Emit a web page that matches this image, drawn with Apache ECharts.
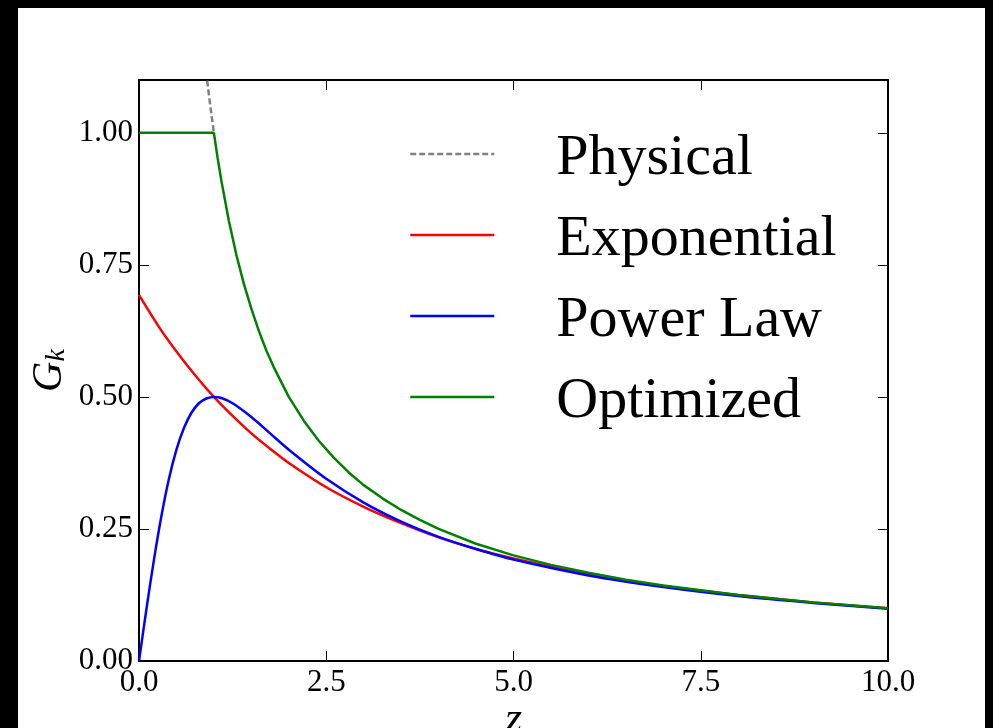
<!DOCTYPE html>
<html>
<head>
<meta charset="utf-8">
<script src="https://cdn.jsdelivr.net/npm/echarts@6/dist/echarts.min.js"></script>
<style>
  html,body{margin:0;padding:0;background:#000;width:993px;height:728px;overflow:hidden;}
  #main{position:absolute;left:18px;top:8px;width:967px;height:720px;background:#fff;}
</style>
</head>
<body>
<div id="main"></div>
<script>
// values
const zPhys = [0.91, 0.95, 1.0];
const gPhys = [1.099, 1.053, 1.0];

const zExp = [0, 0.25, 0.5, 0.75, 1, 1.25, 1.5, 1.75, 2, 2.5, 3, 3.5, 4, 4.5, 5, 6, 7, 8, 9, 10];
const gExp = [0.693, 0.636, 0.586, 0.541, 0.500, 0.464, 0.431, 0.402, 0.375, 0.329, 0.292, 0.261, 0.234, 0.212, 0.194, 0.164, 0.142, 0.125, 0.111, 0.100];

const zPow = [0, 0.1, 0.2, 0.3, 0.4, 0.5, 0.6, 0.7, 0.8, 0.9, 1, 1.1, 1.25, 1.5, 1.75, 2, 2.5, 3, 3.5, 4, 4.5, 5, 6, 7, 8, 9, 10];
const gPow = [0, 0.099, 0.192, 0.275, 0.345, 0.400, 0.441, 0.470, 0.488, 0.497, 0.500, 0.498, 0.488, 0.462, 0.431, 0.400, 0.345, 0.300, 0.264, 0.235, 0.212, 0.192, 0.162, 0.140, 0.123, 0.110, 0.099];

const zOpt = [0, 1, 1.05, 1.1, 1.2, 1.3, 1.4, 1.5, 1.6, 1.7, 1.8, 2, 2.2, 2.4, 2.6, 2.8, 3, 3.25, 3.5, 3.75, 4, 4.5, 5, 5.5, 6, 6.5, 7, 8, 9, 10];
const gOpt = [1, 1, 0.952, 0.909, 0.833, 0.769, 0.714, 0.667, 0.625, 0.588, 0.556, 0.500, 0.455, 0.417, 0.385, 0.357, 0.333, 0.308, 0.286, 0.267, 0.250, 0.222, 0.200, 0.182, 0.167, 0.154, 0.143, 0.125, 0.111, 0.100];

const xTicks = ['0.0', '2.5', '5.0', '7.5', '10.0'];
const yTicks = ['0.00', '0.25', '0.50', '0.75', '1.00'];

const zip = (xs, ys) => xs.map((x, i) => [x, ys[i]]);
const serif = 'Liberation Serif';

const myChart = echarts.init(document.getElementById('main'));

const axisCommon = {
  type: 'value',
  axisLine: { show: true, onZero: false, lineStyle: { color: '#000', width: 2 } },
  axisTick: { show: true, inside: true, length: 10, lineStyle: { color: '#000', width: 1 } },
  splitLine: { show: false }
};

// tick label only on the exact multiples
const tickText = (list, step) => v => {
  const i = Math.round(v / step);
  return Math.abs(v - i * step) < 1e-6 && list[i] ? list[i] : '';
};

myChart.setOption({
  animation: false,
  grid: { left: 121, right: 97, top: 72, bottom: 67, containLabel: false, outerBoundsMode: 'none' },
  legend: {
    orient: 'vertical',
    left: 386,
    top: 107,
    itemWidth: 84,
    itemHeight: 2,
    itemGap: 13,
    itemStyle: { opacity: 0, borderWidth: 0 },
    lineStyle: { width: 2.5 },
    data: ['Physical', 'Exponential', 'Power Law', 'Optimized'],
    formatter: name => '{t|' + name + '}',
    textStyle: {
      fontFamily: serif, fontSize: 58, color: '#000',
      rich: { t: { fontFamily: serif, fontSize: 58, color: '#000', lineHeight: 57, padding: [10, 0, 0, 57] } }
    }
  },
  xAxis: [
    Object.assign({}, axisCommon, {
      position: 'bottom', min: 0, max: 10, interval: 2.5,
      axisLabel: { color: '#000', fontFamily: serif, fontSize: 31, margin: 6,
        formatter: tickText(xTicks, 2.5) },
      name: 'z', nameLocation: 'middle', nameGap: 37, nameMoveOverlap: false,
      nameTextStyle: { fontFamily: serif, fontStyle: 'italic', fontSize: 44, color: '#000' }
    }),
    Object.assign({}, axisCommon, {
      position: 'top', min: 0, max: 10, interval: 2.5,
      axisLabel: { show: false }
    })
  ],
  yAxis: [
    Object.assign({}, axisCommon, {
      position: 'left', min: 0, max: 1.1, interval: 0.25,
      axisLabel: { color: '#000', fontFamily: serif, fontSize: 31, margin: 6,
        formatter: tickText(yTicks, 0.25) },
      name: '{g|G}{k|k}', nameLocation: 'middle', nameGap: 68, nameRotate: 90, nameMoveOverlap: false,
      nameTextStyle: {
        rich: {
          g: { fontFamily: serif, fontStyle: 'italic', fontSize: 42, color: '#000' },
          k: { fontFamily: serif, fontStyle: 'italic', fontSize: 28, color: '#000', padding: [14, 0, 0, 0] }
        }
      }
    }),
    Object.assign({}, axisCommon, {
      position: 'right', min: 0, max: 1.1, interval: 0.25,
      axisLabel: { show: false }
    })
  ],
  series: [
    {
      name: 'Physical', type: 'line', symbol: 'none', smooth: false, color: '#808080',
      lineStyle: { color: '#808080', width: 2.5, type: [6, 3] },
      data: zip(zPhys, gPhys)
    },
    {
      name: 'Exponential', type: 'line', symbol: 'none', smooth: 0.3, color: '#ff0000',
      lineStyle: { color: '#ff0000', width: 2.5 },
      data: zip(zExp, gExp)
    },
    {
      name: 'Power Law', type: 'line', symbol: 'none', smooth: 0.3, color: '#0000ff',
      lineStyle: { color: '#0000ff', width: 2.5 },
      data: zip(zPow, gPow)
    },
    {
      name: 'Optimized', type: 'line', symbol: 'none', smooth: false, color: '#008000',
      lineStyle: { color: '#008000', width: 2.5 },
      data: zip(zOpt, gOpt)
    }
  ]
});
</script>
</body>
</html>
